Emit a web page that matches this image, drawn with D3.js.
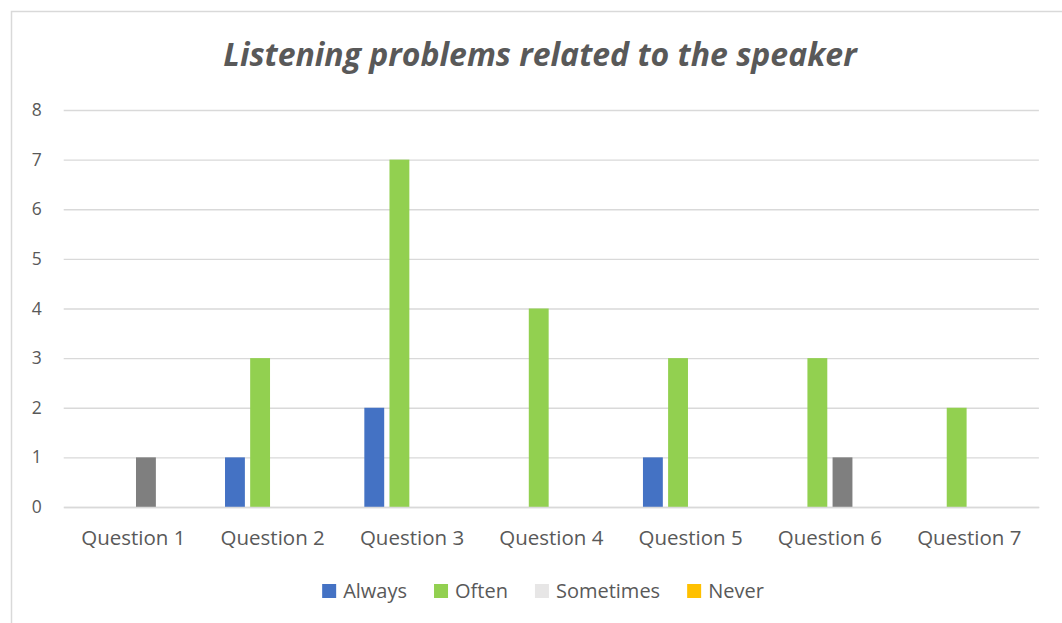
<!DOCTYPE html>
<html>
<head>
<meta charset="utf-8">
<script src="https://cdn.jsdelivr.net/npm/d3@7/dist/d3.min.js"></script>
<style>
  html, body { margin: 0; padding: 0; background: #ffffff; }
  svg { display: block; font-family: "Open Sans", "Noto Sans", sans-serif; }
</style>
</head>
<body>
<svg id="chart" width="1062" height="623"></svg>
<script>
// Survey answers per question
const categories = ["Question 1", "Question 2", "Question 3", "Question 4", "Question 5", "Question 6", "Question 7"];
const seriesNames = ["Always", "Often", "Sometimes", "Never"];
const always    = [0, 1, 2, 0, 1, 0, 0];
const often     = [0, 3, 7, 4, 3, 3, 2];
const sometimes = [1, 0, 0, 0, 0, 1, 0];
const never     = [0, 0, 0, 0, 0, 0, 0];
const yTicks = [0, 1, 2, 3, 4, 5, 6, 7, 8];

const seriesValues = [always, often, sometimes, never];
// bar fills and legend swatch fills (the "Sometimes" bars are drawn in a darker grey)
const barColors    = ["#4472C4", "#92D050", "#7F7F7F", "#FFC000"];
const legendColors = ["#4472C4", "#92D050", "#E7E6E6", "#FFC000"];

const svg = d3.select("#chart");
const textColor = "#595959";

// chart area frame
svg.append("rect")
  .attr("x", 11.5).attr("y", 11.5)
  .attr("width", 1070).attr("height", 630)
  .attr("fill", "#ffffff")
  .attr("stroke", "#D9D9D9").attr("stroke-width", 1.5);

const plot = { left: 63.7, right: 1038.9, top: 110, bottom: 507 };

const x0 = d3.scaleBand().domain(categories).range([plot.left, plot.right]).padding(0);
const inset = 22;
const x1 = d3.scaleBand().domain(seriesNames)
  .range([inset, x0.bandwidth() - inset])
  .paddingInner(0.21).paddingOuter(0);
const y = d3.scaleLinear().domain([0, 8]).range([plot.bottom, plot.top]);

// title
svg.append("text")
  .attr("x", 540).attr("y", 66)
  .attr("text-anchor", "middle")
  .attr("font-size", 32).attr("font-style", "italic").attr("font-weight", 700)
  .attr("fill", textColor)
  .text("Listening problems related to the speaker");

// value axis with gridlines
const yAxis = svg.append("g")
  .attr("transform", `translate(${plot.left},0)`)
  .call(d3.axisLeft(y).tickValues(yTicks).tickFormat(d3.format("d"))
    .tickSize(-(plot.right - plot.left)).tickPadding(22));
yAxis.select(".domain").remove();
yAxis.selectAll(".tick line").attr("stroke", "#D9D9D9").attr("stroke-width", 1.3);
yAxis.selectAll(".tick text")
  .attr("fill", textColor).attr("font-size", 17.5)
  .attr("font-family", "\"Open Sans\", sans-serif");

// bars
const rows = categories.map((c, i) => ({
  category: c,
  values: seriesNames.map((s, j) => ({ series: s, idx: j, value: seriesValues[j][i] }))
}));

const groups = svg.append("g").selectAll("g")
  .data(rows).join("g")
  .attr("transform", d => `translate(${x0(d.category)},0)`);

groups.selectAll("rect")
  .data(d => d.values.filter(v => v.value > 0))
  .join("rect")
  .attr("x", d => x1(d.series))
  .attr("y", d => y(d.value))
  .attr("width", x1.bandwidth())
  .attr("height", d => y(0) - y(d.value))
  .attr("fill", d => barColors[d.idx]);

// category axis
const xAxis = svg.append("g")
  .attr("transform", `translate(0,${plot.bottom})`)
  .call(d3.axisBottom(x0).tickSize(0).tickPadding(23.5));
xAxis.select(".domain").attr("stroke", "#D9D9D9").attr("stroke-width", 1.3);
xAxis.selectAll(".tick text")
  .attr("fill", textColor).attr("font-size", 20.5)
  .attr("font-family", "\"Open Sans\", sans-serif");

// legend
const legend = svg.append("g");
const entries = legend.selectAll("g").data(seriesNames).join("g");
entries.append("rect")
  .attr("width", 14).attr("height", 14)
  .attr("y", -7)
  .attr("fill", (d, i) => legendColors[i]);
entries.append("text")
  .attr("x", 21).attr("dy", "0.35em")
  .attr("font-size", 20).attr("fill", textColor)
  .text(d => d);

let cursor = 0;
const gap = 27;
entries.each(function () {
  const g = d3.select(this);
  const w = 21 + g.select("text").node().getComputedTextLength();
  g.attr("transform", `translate(${cursor},0)`);
  cursor += w + gap;
});
const legendWidth = cursor - gap;
legend.attr("transform", `translate(${543 - legendWidth / 2},591)`);
</script>
</body>
</html>
